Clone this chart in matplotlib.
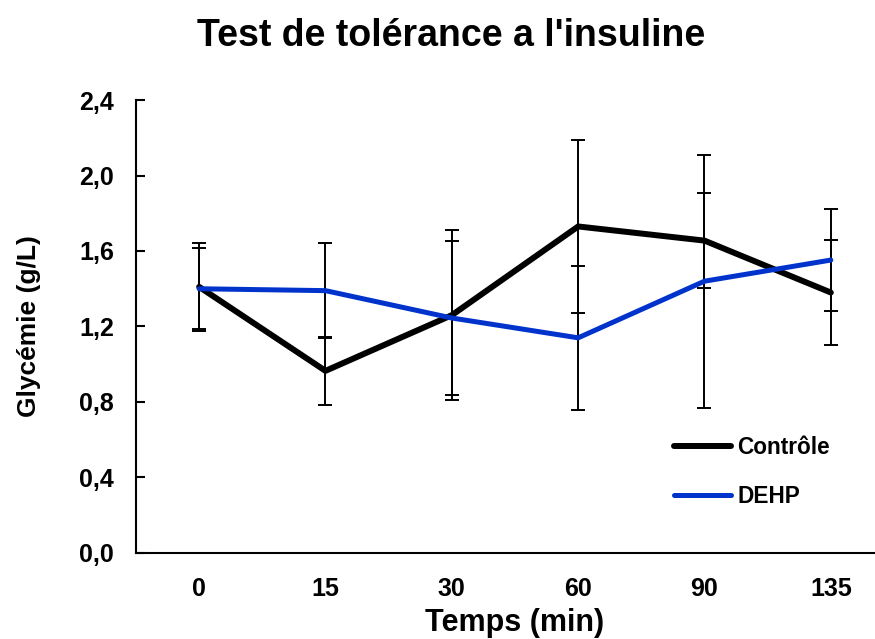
import numpy as np
import matplotlib
matplotlib.use('Agg')
import matplotlib.pyplot as plt
from matplotlib.ticker import FuncFormatter

plt.rcParams['font.family'] = ['Liberation Sans', 'DejaVu Sans']

# données
temps = ['0', '15', '30', '60', '90', '135']
controle = [1.41, 0.965, 1.26, 1.73, 1.655, 1.38]
controle_err = [0.235, 0.18, 0.45, 0.46, 0.25, 0.277]
dehp = [1.40, 1.39, 1.245, 1.14, 1.44, 1.552]
dehp_err = [0.215, 0.25, 0.41, 0.38, 0.67, 0.27]

fig = plt.figure(figsize=(8.75, 6.39), dpi=100)
# l'axe dépasse à droite : la catégorie 135 est centrée dans une case coupée
ax = fig.add_axes([0.1554, 0.1346, 0.8663, 0.7089])

x = np.arange(len(temps))
for moy, err in [(controle, controle_err), (dehp, dehp_err)]:
    ax.errorbar(x, moy, yerr=err, fmt='none', ecolor='black',
                elinewidth=1.4, capsize=4.7, capthick=1.4, zorder=2)
ax.plot(x, controle, color='black', linewidth=4.3, label='Contrôle',
        solid_capstyle='round', zorder=3)
ax.plot(x, dehp, color='#0033cc', linewidth=3.6, label='DEHP',
        solid_capstyle='round', zorder=4)

ax.set_xlim(-0.5, 5.5)
ax.set_ylim(0, 2.4)
ax.set_yticks(np.arange(0, 2.41, 0.4))
ax.yaxis.set_major_formatter(FuncFormatter(lambda v, p: f'{v:.1f}'.replace('.', ',')))
ax.set_xticks(x)
ax.set_xticklabels(temps)

for s in ['top', 'right']:
    ax.spines[s].set_visible(False)
for s in ['left', 'bottom']:
    ax.spines[s].set_linewidth(1.5)
ax.tick_params(axis='y', direction='in', length=6.5, width=1.5, labelsize=18, pad=16)
ax.tick_params(axis='x', length=0, labelsize=18, pad=17)
for lab in ax.get_xticklabels() + ax.get_yticklabels():
    lab.set_fontweight('bold')

ax.set_xlabel('Temps (min)', fontsize=22, fontweight='bold', labelpad=5)
ax.set_ylabel('Glycémie (g/L)', fontsize=19, fontweight='bold', labelpad=27)
fig.suptitle("Test de tolérance a l'insuline", fontsize=27, fontweight='bold',
             x=0.516, y=0.972)

ax.legend(loc='center left', bbox_to_anchor=(0.747, 0.2614),
          bbox_transform=fig.transFigure, frameon=False,
          handlelength=2.52, handletextpad=0.27, labelspacing=1.15,
          prop={'weight': 'bold', 'size': 16.3})

plt.savefig('out.png', dpi=100)
plt.close()
